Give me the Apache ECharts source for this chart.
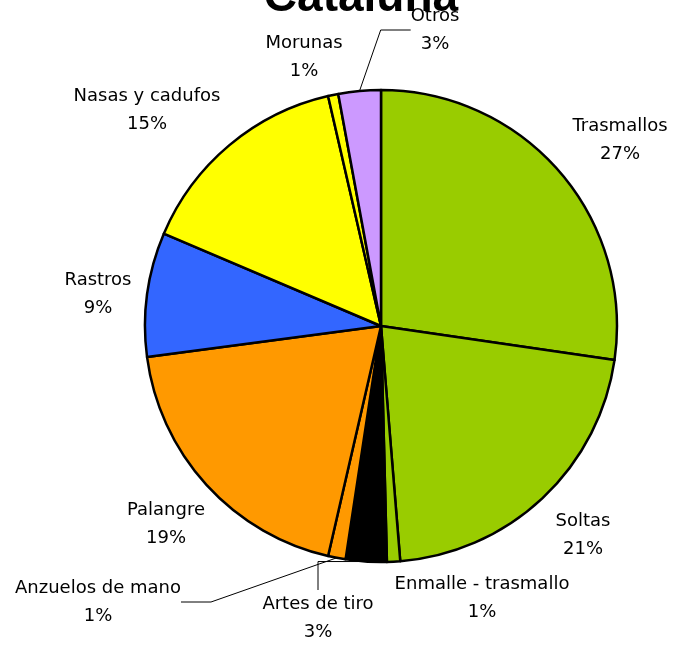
<!DOCTYPE html>
<html>
<head>
<meta charset="utf-8">
<script src="https://cdn.jsdelivr.net/npm/echarts@6/dist/echarts.min.js"></script>
<style>
  html, body { margin: 0; padding: 0; background: #fff; }
  #chart { width: 673px; height: 645px; }
</style>
</head>
<body>
<div id="chart"></div>
<script>
// Data (share of catch by gear, Cataluña)
const categories = [
  "Trasmallos", "Soltas", "Enmalle - trasmallo", "Artes de tiro",
  "Anzuelos de mano", "Palangre", "Rastros", "Nasas y cadufos",
  "Morunas", "Otros"
];
const values = [27.3, 21.4, 0.9, 2.8, 1.2, 19.3, 8.5, 15.0, 0.7, 2.9];
const colors = [
  "#99CC00", "#99CC00", "#99CC00", "#000000", "#FF9900",
  "#FF9900", "#3366FF", "#FFFF00", "#FFFF00", "#CC99FF"
];
// labels that get a leader line in the original
const withLine = ["Artes de tiro", "Anzuelos de mano", "Otros"];
// label block centres (px)
const labelPos = [
  [620, 140], [583, 535], [482, 598], [318, 618], [98, 602],
  [166, 524], [98, 294], [147, 110], [304, 57], [435, 30]
];

const chart = echarts.init(document.getElementById("chart"));

const option = {
  animation: false,
  graphic: [
    {
      type: "text",
      x: 361,
      y: 21,
      style: {
        text: "Cataluña",
        font: "bold 46px 'Liberation Sans', Arial, sans-serif",
        fill: "#000",
        textAlign: "center",
        textVerticalAlign: "bottom",
      },
    },
  ],
  series: [
    {
      type: "pie",
      center: [381, 326],
      radius: 236,
      startAngle: 90,
      clockwise: true,
      itemStyle: {
        borderColor: "#000",
        borderWidth: 2.5,
      },
      label: {
        show: true,
        position: "outside",
        color: "#000",
        fontFamily: "'DejaVu Sans', sans-serif",
        fontSize: 18,
        lineHeight: 28,
        align: "center",
        overflow: "none",
        formatter: (p) => p.name + "\n" + Math.round(p.percent) + "%",
      },
      labelLine: {
        show: false,
        lineStyle: { color: "#000", width: 1 },
      },
      labelLayout: (params) => ({
        x: labelPos[params.dataIndex][0],
        y: labelPos[params.dataIndex][1],
        align: "center",
        verticalAlign: "middle",
      }),
      emphasis: { disabled: true },
      data: categories.map((name, i) => ({
        name: name,
        value: values[i],
        itemStyle: { color: colors[i] },
        labelLine: { show: withLine.includes(name) },
      })),
    },
  ],
};

chart.setOption(option);
</script>
</body>
</html>
